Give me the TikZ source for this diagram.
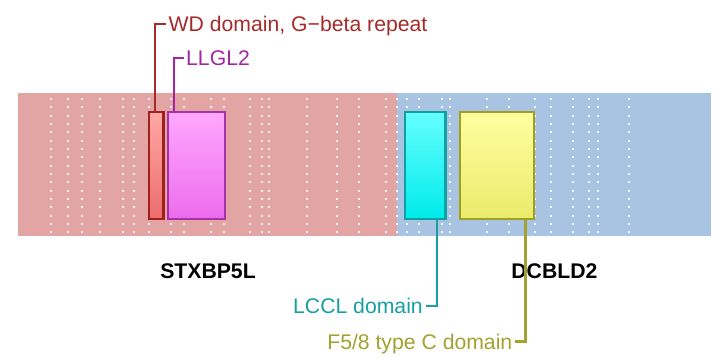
\documentclass[tikz,border=0pt]{standalone}
\usepackage{fontspec}
\setmainfont{Liberation Sans}
\begin{document}
\begin{tikzpicture}[x=1pt,y=-1pt,
  lbl/.style={inner sep=0pt,font=\fontsize{21.2}{25}\selectfont},
  gname/.style={inner sep=0pt,font=\fontsize{21.2}{25}\selectfont\bfseries,text=black},
  dom/.style={draw,line width=2.4pt,minimum height=107pt,inner sep=0pt,anchor=north west},
  conn/.style={line width=2.2pt}]
\definecolor{bandred}{HTML}{E3A4A4}
\definecolor{bandblue}{HTML}{A8C4E2}
\definecolor{wdc}{HTML}{A52A2A}
\definecolor{llc}{HTML}{A424A4}
\definecolor{lcc}{HTML}{18A0A0}
\definecolor{f5c}{HTML}{A2A230}
\definecolor{wdb}{HTML}{A02020}
\definecolor{llb}{HTML}{A830A8}
\definecolor{lcb}{HTML}{10A0A0}
\definecolor{f5b}{HTML}{A0A020}
\definecolor{wdt}{HTML}{FFA8A4}
\definecolor{wdo}{HTML}{EC6C6C}
\definecolor{llt}{HTML}{FFA8FF}
\definecolor{llo}{HTML}{EC6CEC}
\definecolor{lct}{HTML}{66FFFF}
\definecolor{lco}{HTML}{00EAEA}
\definecolor{f5t}{HTML}{FFFFA0}
\definecolor{f5o}{HTML}{EAEA6C}
\useasboundingbox (0,0) rectangle (719,358);
% bands
\fill[bandred] (18,93) rectangle (397,236);
\fill[bandblue] (397,93) rectangle (711,236);
% dots
\foreach \x in {50.7,67.7,82,99.7,123,134.3,149,170.7,184.3,211.3,224,249.7,261.7,268.7,307,337.3,359,385.7,397.3,406.7,419,442.3,449.7,487.3,509,535,550.7,572.7,589,597.7,629}
  \foreach \k in {0,...,16}
    \fill[white,opacity=0.9] (\x-0.9,99+8.33*\k-0.9) rectangle ++(1.8,1.8);
% domain boxes
\node[dom,draw=wdb,top color=wdt,bottom color=wdo,minimum width=14.6pt] (wd) at (147.7,110.7) {};
\node[dom,draw=llb,top color=llt,bottom color=llo,minimum width=57pt] (ll) at (166.7,110.7) {};
\node[dom,draw=lcb,top color=lct,bottom color=lco,minimum width=40.6pt] (lc) at (403.7,110.7) {};
\node[dom,draw=f5b,top color=f5t,bottom color=f5o,minimum width=73.7pt] (f5) at (459,110.7) {};
% labels
\node[lbl,text=wdc,anchor=base west] (wdl) at (168.5,31.8) {WD domain, G−beta repeat};
\node[lbl,text=llc,anchor=base west] (lll) at (186,65.5) {LLGL2};
\node[lbl,text=lcc,anchor=base east] (lcl) at (423,313.5) {LCCL domain};
\node[lbl,text=f5c,anchor=base east] (f5l) at (512.5,349) {F5/8 type C domain};
\node[gname] (g1) at (208,271) {STXBP5L};
\node[gname] (g2) at (554.4,271) {DCBLD2};
% connectors
\coordinate (wdk1) at (154.7,24);
\coordinate (wdk2) at (165.7,24);
\draw[conn,draw=wdc] (wd.north -| wdk1) -- (wdk1) -- (wdk2);
\coordinate (llk1) at (173.7,58);
\coordinate (llk2) at (184,58);
\draw[conn,draw=llc] (ll.north -| llk1) -- (llk1) -- (llk2);
\coordinate (lck1) at (437,306);
\coordinate (lck2) at (425.5,306);
\draw[conn,draw=lcc] (lc.south -| lck1) -- (lck1) -- (lck2);
\coordinate (f5k1) at (525.5,341.5);
\coordinate (f5k2) at (514.5,341.5);
\draw[conn,draw=f5c] (f5.south -| f5k1) -- (f5k1) -- (f5k2);
\end{tikzpicture}
\end{document}
